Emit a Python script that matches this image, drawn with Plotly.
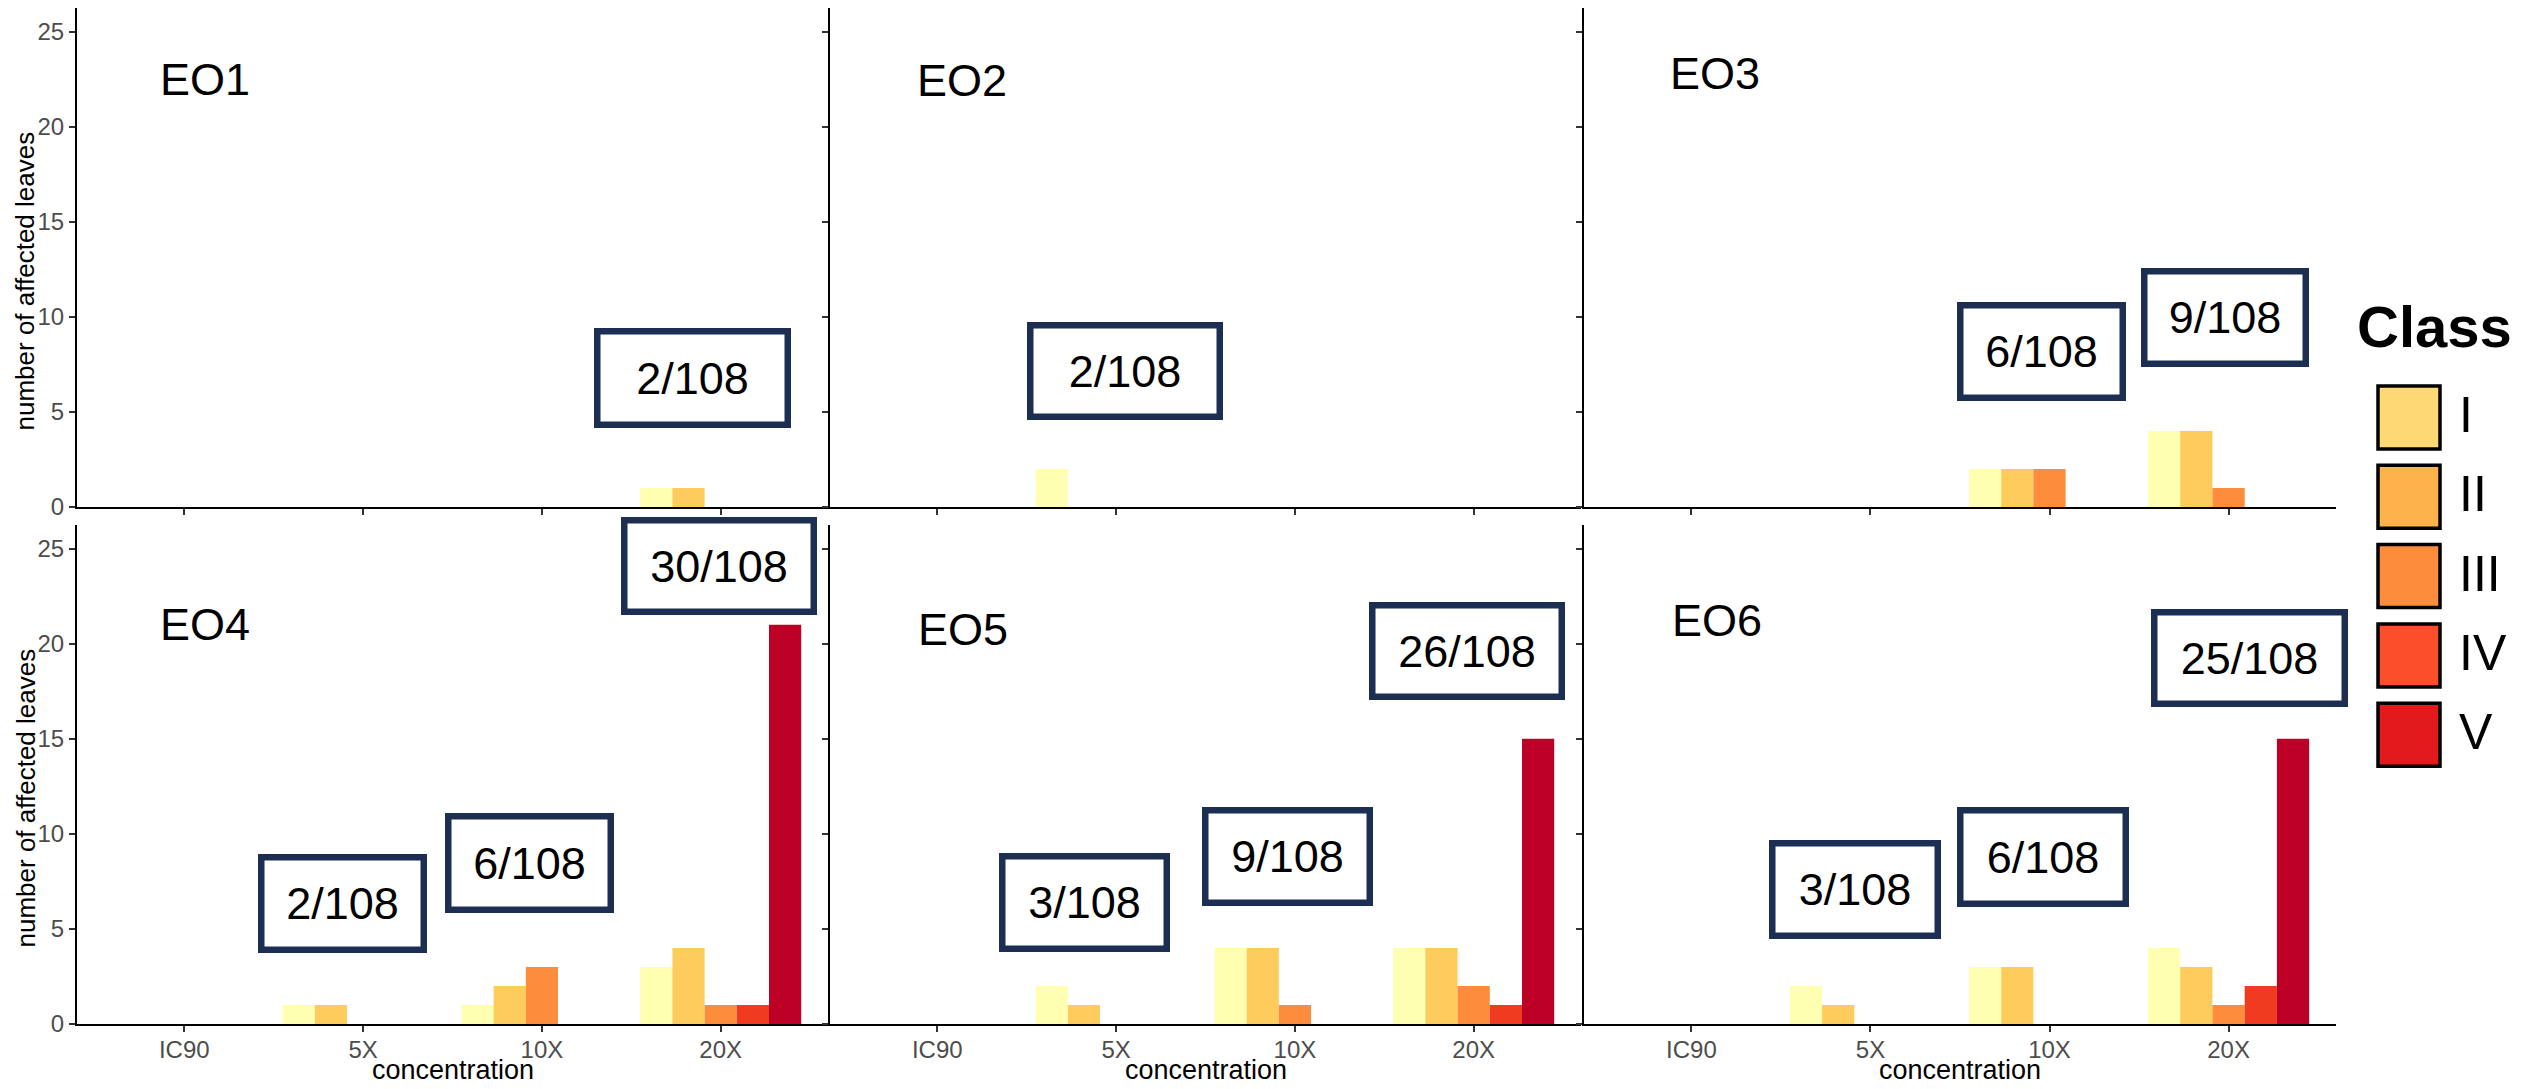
import plotly.graph_objects as go

# ---------------------------------------------------------------- data
concentrations = ["IC90", "5X", "10X", "20X"]
classes = ["I", "II", "III", "IV", "V"]
leaves_per_treatment = 108

# affected leaves per damage class (rows I..V) at each concentration
EO1 = [[0, 0, 0, 1], [0, 0, 0, 1], [0, 0, 0, 0], [0, 0, 0, 0], [0, 0, 0, 0]]
EO2 = [[0, 2, 0, 0], [0, 0, 0, 0], [0, 0, 0, 0], [0, 0, 0, 0], [0, 0, 0, 0]]
EO3 = [[0, 0, 2, 4], [0, 0, 2, 4], [0, 0, 2, 1], [0, 0, 0, 0], [0, 0, 0, 0]]
EO4 = [[0, 1, 1, 3], [0, 1, 2, 4], [0, 0, 3, 1], [0, 0, 0, 1], [0, 0, 0, 21]]
EO5 = [[0, 2, 4, 4], [0, 1, 4, 4], [0, 0, 1, 2], [0, 0, 0, 1], [0, 0, 0, 15]]
EO6 = [[0, 2, 3, 4], [0, 1, 3, 3], [0, 0, 0, 1], [0, 0, 0, 2], [0, 0, 0, 15]]

panels = ["EO1", "EO2", "EO3", "EO4", "EO5", "EO6"]
panel_counts = [EO1, EO2, EO3, EO4, EO5, EO6]

# ---------------------------------------------------------------- styling
bar_colors = ["#FFFFB2", "#FECC5C", "#FD8D3C", "#F03B20", "#BD0026"]
legend_colors = ["#FED976", "#FEB24C", "#FD8D3C", "#FC4E2A", "#E31A1C"]
box_color = "#1C2E52"
FONT = "Liberation Sans, Arial, sans-serif"

W, H = 2534, 1089
L, R, T, B = 77, 2336, 8, 1024          # plot-area edges in pixels
PW, PH = R - L, B - T


def px_x(p):
    return (p - L) / PW


def px_y(p):
    return (B - p) / PH


col_px = [(77, 828), (830, 1581), (1584, 2336)]
row_px = [(8, 507), (525, 1024)]
x_domains = [[px_x(a), px_x(b)] for a, b in col_px]
y_domains = [[px_y(b), px_y(a)] for a, b in row_px]

Y_MAX = 26.25

# panel-title anchor (left edge, vertical centre) in data units
title_pos = {
    "EO1": (-0.147, 22.5), "EO2": (-0.125, 22.45), "EO3": (-0.13, 22.8),
    "EO4": (-0.147, 21.0), "EO5": (-0.119, 20.75), "EO6": (-0.122, 21.25),
}

# total-count boxes: (centre x, centre y) in data units, outer size in px
box_pos = {
    ("EO1", 3): (2.842, 6.79, 197, 100),
    ("EO2", 1): (1.050, 7.15, 196, 98),
    ("EO3", 2): (1.953, 8.18, 169, 99),
    ("EO3", 3): (2.979, 9.97, 168, 99),
    ("EO4", 1): (0.885, 6.34, 169, 99),
    ("EO4", 2): (1.931, 8.47, 169, 100),
    ("EO4", 3): (2.991, 24.09, 196, 98),
    ("EO5", 1): (0.823, 6.39, 171, 99),
    ("EO5", 2): (1.959, 8.81, 171, 99),
    ("EO5", 3): (2.963, 19.62, 196, 98),
    ("EO6", 1): (0.916, 7.08, 172, 99),
    ("EO6", 2): (1.961, 8.78, 172, 100),
    ("EO6", 3): (3.116, 19.25, 197, 98),
}

fig = go.Figure()
annotations = []
shapes = []
layout_axes = {}

tick_font = dict(family=FONT, size=24, color="#4D4D4D")

for i, (name, counts) in enumerate(zip(panels, panel_counts)):
    row, col = divmod(i, 3)
    sfx = "" if i == 0 else str(i + 1)
    xref, yref = "x" + sfx, "y" + sfx

    for k, cls in enumerate(classes):
        fig.add_trace(go.Bar(
            x=concentrations, y=counts[k], name=cls,
            marker=dict(color=bar_colors[k], line=dict(width=0)),
            xaxis=xref, yaxis=yref, showlegend=False,
        ))

    layout_axes["xaxis" + sfx] = dict(
        type="category", categoryorder="array", categoryarray=concentrations,
        range=[-0.6, 3.6], domain=x_domains[col], anchor=yref,
        showline=True, linecolor="black", linewidth=2.2,
        ticks="outside", ticklen=6, tickwidth=1.6, tickcolor="#333333",
        showticklabels=(row == 1), showgrid=False, zeroline=False,
        ticklabelstandoff=-3, tickfont=tick_font,
    )
    layout_axes["yaxis" + sfx] = dict(
        range=[0, Y_MAX], domain=y_domains[row], anchor=xref,
        tickvals=[0, 5, 10, 15, 20, 25],
        showline=True, linecolor="black", linewidth=2.2,
        ticks="outside", ticklen=6, tickwidth=1.6, tickcolor="#333333",
        showticklabels=(col == 0), showgrid=False, zeroline=False,
        tickfont=tick_font,
    )

    tx, ty = title_pos[name]
    annotations.append(dict(
        text=name, x=tx, y=ty, xref=xref, yref=yref,
        xanchor="left", yanchor="middle", showarrow=False,
        font=dict(family=FONT, size=45, color="black"),
    ))

    for j in range(len(concentrations)):
        total = sum(c[j] for c in counts)
        if total == 0:
            continue
        bx, by, bw_px, bh_px = box_pos[(name, j)]
        bw = 6.5
        annotations.append(dict(
            text=f"{total}/{leaves_per_treatment}", x=bx, y=by,
            xref=xref, yref=yref, xanchor="center", yanchor="middle",
            showarrow=False, width=bw_px - 2 * bw, height=bh_px - 2 * bw,
            borderwidth=bw, borderpad=0, bordercolor=box_color,
            bgcolor="white", align="center", valign="middle",
            font=dict(family=FONT, size=45, color="black"),
        ))

# axis titles
for (a, b) in row_px:
    annotations.append(dict(
        text="number of affected leaves", textangle=-90,
        x=px_x(25), y=px_y((a + b) / 2 + 24), xref="paper", yref="paper",
        xanchor="center", yanchor="middle", showarrow=False,
        font=dict(family=FONT, size=26, color="black"),
    ))
for (a, b) in col_px:
    annotations.append(dict(
        text="concentration", x=px_x((a + b) / 2), y=px_y(1070),
        xref="paper", yref="paper", xanchor="center", yanchor="middle",
        showarrow=False, font=dict(family=FONT, size=27, color="black"),
    ))

# class legend
annotations.append(dict(
    text="<b>Class</b>", x=px_x(2355), y=px_y(326), xref="paper", yref="paper",
    xanchor="left", yanchor="middle", showarrow=False,
    font=dict(family=FONT, size=58, color="black"),
))
for k, cls in enumerate(classes):
    top = 386 + 79.3 * k
    shapes.append(dict(
        type="rect", xref="paper", yref="paper",
        x0=px_x(2378), x1=px_x(2440), y0=px_y(top + 63), y1=px_y(top),
        line=dict(color="black", width=3.5), fillcolor=legend_colors[k],
    ))
    annotations.append(dict(
        text=cls, x=px_x(2457), y=px_y(top + 29), xref="paper", yref="paper",
        xanchor="left", yanchor="middle", showarrow=False,
        font=dict(family=FONT, size=50, color="black"),
    ))

fig.update_layout(
    width=W, height=H, autosize=False,
    margin=dict(l=L, r=W - R, t=T, b=H - B, pad=0),
    paper_bgcolor="white", plot_bgcolor="white",
    barmode="group", bargap=0.1, bargroupgap=0,
    showlegend=False, annotations=annotations, shapes=shapes,
    **layout_axes,
)

fig.write_html("out.html")
